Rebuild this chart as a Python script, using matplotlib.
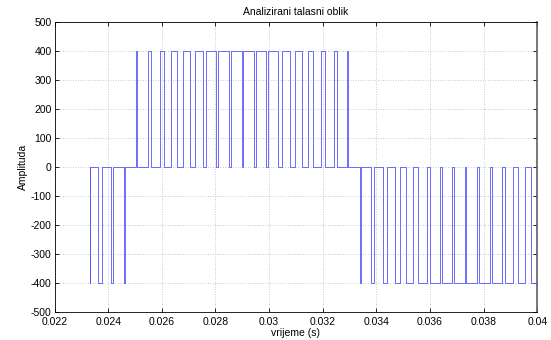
import matplotlib
matplotlib.use("Agg")
import matplotlib.pyplot as plt
import numpy as np

# pulse edges (seconds)
pos_start = [0.025052, 0.025487, 0.025922, 0.026356, 0.026791, 0.027226, 0.027660, 0.028114, 0.028571,
             0.029034, 0.029502, 0.029974, 0.030465, 0.030955, 0.031446, 0.031937, 0.032427, 0.032918]
pos_end = [0.025090, 0.025580, 0.026071, 0.026562, 0.027052, 0.027543, 0.028034, 0.028506, 0.028974,
           0.029437, 0.029894, 0.030347, 0.030782, 0.031216, 0.031651, 0.032086, 0.032520, 0.032955]
neg_start = [0.023306, 0.023608, 0.024099, 0.024590,
             0.033381, 0.033815, 0.034250, 0.034685, 0.035119, 0.035554, 0.035989, 0.036442,
             0.036899, 0.037362, 0.037830, 0.038302, 0.038793, 0.039283, 0.039774]
neg_end = [0.023323, 0.023757, 0.024192, 0.024627,
           0.033418, 0.033908, 0.034399, 0.034890, 0.035380, 0.035871, 0.036362, 0.036834,
           0.037302, 0.037765, 0.038222, 0.038675, 0.039110, 0.039545, 0.039979]
amp = 400
t_first = 0.023306
t_last = 0.040

xticks = [0.022, 0.024, 0.026, 0.028, 0.030, 0.032, 0.034, 0.036, 0.038, 0.040]
xticklabels = ['0.022', '0.024', '0.026', '0.028', '0.03', '0.032', '0.034', '0.036', '0.038', '0.04']
yticks = list(range(-500, 501, 100))

# build the stepped waveform
pulses = [(s, e, amp) for s, e in zip(pos_start, pos_end)] + \
         [(s, e, -amp) for s, e in zip(neg_start, neg_end)]
pulses.sort()
t = [t_first]
v = [0]
for s, e, lvl in pulses:
    t += [s, s, e, e]
    v += [0, lvl, lvl, 0]
t.append(t_last)
v.append(0)

plt.rcParams['font.family'] = ['Liberation Sans', 'DejaVu Sans']
plt.rcParams['axes.unicode_minus'] = False
fig = plt.figure(figsize=(5.51, 3.40), dpi=100)
ax = fig.add_axes([0.099, 0.082, 0.876, 0.852])

ax.plot(t, v, color='#5555ff', lw=0.6)

ax.set_xlim(0.022, 0.040)
ax.set_ylim(-500, 500)
ax.set_xticks(xticks)
ax.set_xticklabels(xticklabels)
ax.set_yticks(yticks)
ax.tick_params(direction='in', length=3, width=0.6, labelsize=7.5, top=True, right=True, pad=2)
ax.tick_params(axis='x', pad=3.5)
ax.grid(True, linestyle=(0, (1, 2)), color='#b8b8b8', linewidth=0.6)
for sp in ax.spines.values():
    sp.set_linewidth(0.6)
ax.spines['right'].set_color('#606060')
ax.spines['right'].set_linewidth(1.2)

ax.set_title('Analizirani talasni oblik', fontsize=7.5, pad=5)
ax.set_xlabel('vrijeme (s)', fontsize=7.5, labelpad=0.5)
ax.set_ylabel('Amplituda', fontsize=7.5, labelpad=2)

fig.savefig('out.png', dpi=100)
